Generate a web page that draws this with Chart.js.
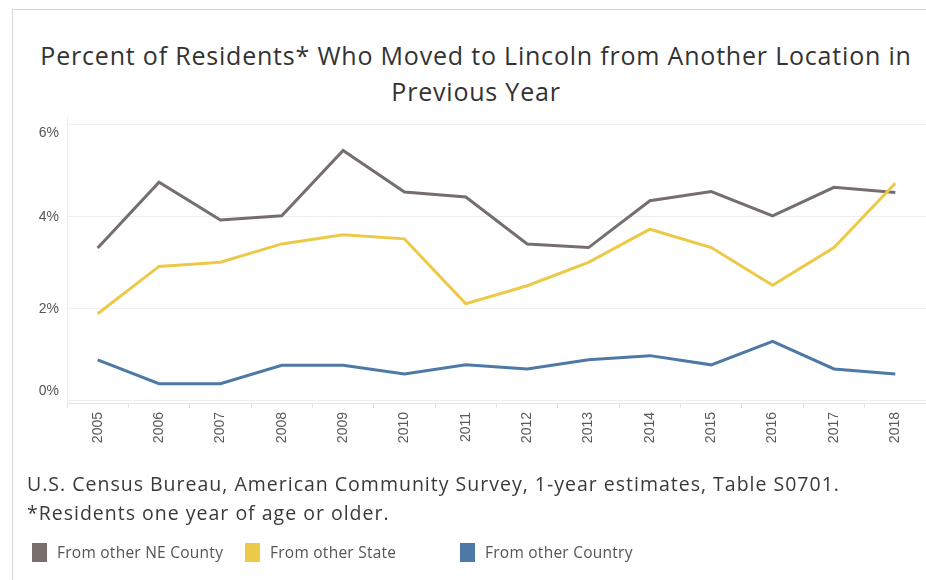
<!DOCTYPE html>
<html>
<head>
<meta charset="utf-8">
<script src="https://cdn.jsdelivr.net/npm/chart.js@4.4.1/dist/chart.umd.min.js"></script>
<style>
  html, body { margin: 0; padding: 0; background: #fff; }
  body { width: 926px; height: 580px; position: relative; overflow: hidden; font-family: "Open Sans", sans-serif; }
  #frame { position: absolute; left: 12px; top: 9px; width: 930px; height: 600px; border-left: 1px solid #d6d6d6; border-top: 1px solid #d6d6d6; }
  #title { position: absolute; left: 0; width: 952px; top: 37px; text-align: center; font-size: 25px; letter-spacing: 0.8px; line-height: 36px; color: #333; }
  #chartBox { position: absolute; left: 0; top: 0; width: 926px; height: 580px; }
  .note { position: absolute; left: 27px; font-size: 19.5px; letter-spacing: 1px; color: #3a3a3a; white-space: nowrap; }
  .leg { position: absolute; top: 543px; font-size: 15.5px; letter-spacing: 0.25px; color: #555; white-space: nowrap; line-height: 19px; }
  .leg span.box { display: inline-block; width: 15px; height: 19px; vertical-align: top; margin-right: 10px; }
</style>
</head>
<body>
<div id="frame"></div>
<div id="title">Percent of Residents* Who Moved to Lincoln from Another Location in<br>Previous Year</div>
<div id="chartBox"><canvas id="moveChart" width="926" height="580"></canvas></div>
<div class="note" style="top:470px">U.S. Census Bureau, American Community Survey, 1-year estimates, Table S0701.</div>
<div class="note" style="top:499px">*Residents one year of age or older.</div>
<div class="leg" style="left:32px"><span class="box" style="background:#79706e"></span>From other NE County</div>
<div class="leg" style="left:245px"><span class="box" style="background:#edc948"></span>From other State</div>
<div class="leg" style="left:460px"><span class="box" style="background:#4e79a7"></span>From other Country</div>

<script>
// --- Data (percent of residents) ---
const years = ['2005', '2006', '2007', '2008', '2009', '2010', '2011', '2012', '2013', '2014', '2015', '2016', '2017', '2018'];
const fromNECounty = [3.32, 4.75, 3.93, 4.02, 5.44, 4.54, 4.43, 3.41, 3.33, 4.35, 4.55, 4.02, 4.64, 4.53];
const fromOtherState = [1.89, 2.92, 3.01, 3.41, 3.61, 3.52, 2.11, 2.50, 3.01, 3.73, 3.33, 2.51, 3.33, 4.73];
const fromOtherCountry = [0.89, 0.37, 0.37, 0.77, 0.77, 0.58, 0.78, 0.69, 0.89, 0.98, 0.78, 1.29, 0.69, 0.58];
const yTicks = [0, 2, 4, 6];

// --- Chart ---
const ctx = document.getElementById('moveChart').getContext('2d');

function lineSet(label, data, color) {
    return {
        label: label,
        data: data,
        borderColor: color,
        backgroundColor: color,
        borderWidth: 3,
        pointRadius: 0,
        tension: 0,
        fill: false
    };
}

// keep end labels of the y axis inside the plot, like Tableau does
const keepLabelsInside = {
    id: 'keepLabelsInside',
    beforeDraw(chart) {
        const y = chart.scales.y;
        const top = chart.chartArea.top + 16;
        const bottom = chart.chartArea.bottom - 12;
        y.getLabelItems().forEach(item => {
            const t = item.options.translation;
            t[1] = Math.min(Math.max(t[1], top), bottom);
        });
    }
};

new Chart(ctx, {
    type: 'line',
    data: {
        labels: years,
        datasets: [
            lineSet('From other Country', fromOtherCountry, '#4e79a7'),
            lineSet('From other State', fromOtherState, '#edc948'),
            lineSet('From other NE County', fromNECounty, '#756e6c')
        ]
    },
    options: {
        responsive: false,
        animation: false,
        layout: { padding: { top: 117, left: 0, right: 0, bottom: 0 } },
        plugins: {
            legend: { display: false },
            tooltip: { enabled: false }
        },
        scales: {
            x: {
                offset: true,
                afterFit: (scale) => { scale.height = 177; },
                border: { color: '#e4e4e4' },
                grid: { offset: true, drawOnChartArea: false, tickLength: 5, color: '#e4e4e4' },
                ticks: {
                    minRotation: 90,
                    maxRotation: 90,
                    padding: 4,
                    color: '#5a5a5a',
                    font: { family: 'Liberation Sans', size: 14 }
                }
            },
            y: {
                min: -0.05,
                max: 6.17,
                afterFit: (scale) => { scale.width = 67; },
                afterBuildTicks: (scale) => { scale.ticks = yTicks.map(v => ({ value: v })); },
                border: { color: '#ececec' },
                grid: { color: '#efefef', drawTicks: false },
                ticks: {
                    padding: 8,
                    color: '#555',
                    font: { family: 'Liberation Sans', size: 14 },
                    callback: (v) => v + '%'
                }
            }
        }
    },
    plugins: [keepLabelsInside]
});
</script>
</body>
</html>
